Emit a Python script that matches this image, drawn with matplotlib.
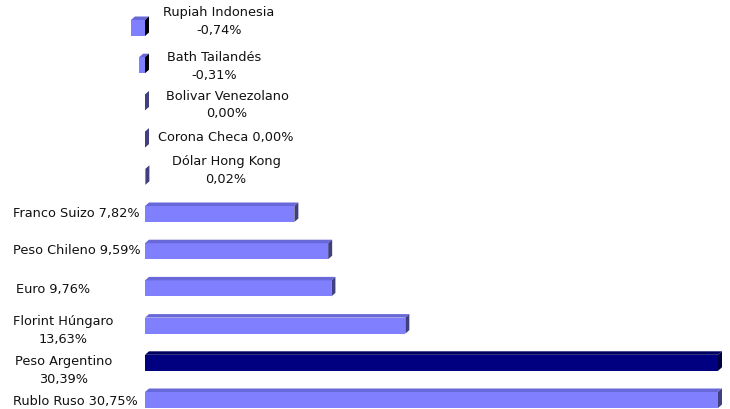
import matplotlib.pyplot as plt
from matplotlib.patches import Polygon

monedas = ['Rupiah Indonesia', 'Bath Tailandés', 'Bolivar Venezolano', 'Corona Checa',
           'Dólar Hong Kong', 'Franco Suizo', 'Peso Chileno', 'Euro',
           'Florint Húngaro', 'Peso Argentino', 'Rublo Ruso']
valores = [-0.74, -0.31, 0.00, 0.00, 0.02, 7.82, 9.59, 9.76, 13.63, 30.39, 30.75]
saltos = ['\n', '\n', '\n', ' ', '\n', ' ', ' ', ' ', '\n', '\n', ' ']
destacado = 'Peso Argentino'
x_max = 30  # axis maximum, longer bars are cut there

# pixel geometry of the original picture
px_pct = 19.1      # px per 1%
x0_px = 145        # x of zero line
row_px = 37.2      # px between rows
y0_px = 29         # centre of first bar
W, H = 730, 410

def dx(px):
    return (px - x0_px) / px_pct

def dy(py):
    return (py - y0_px) / row_px

fig = plt.figure(figsize=(7.3, 4.1), dpi=100)
ax = fig.add_axes([0, 0, 1, 1])
ax.set_xlim(dx(0), dx(W))
ax.set_ylim(dy(H), dy(0))
ax.axis('off')

alto = 16 / row_px
ddx = 4 / px_pct
ddy = 3.5 / row_px

for i, (m, v) in enumerate(zip(monedas, valores)):
    if m == destacado:
        front, top, side = '#000080', '#000060', '#000040'
    else:
        front, top, side = '#8080ff', '#6868d8', '#404080'
    if v < 0:
        side = '#000000'
    v = min(v, x_max)
    y1 = i - alto / 2
    y2 = i + alto / 2
    if abs(v) > 0.05:
        ax.barh(i, v, height=alto, color=front, linewidth=0)
        a, b = min(0, v), max(0, v)
        ax.add_patch(Polygon([(a, y1), (a + ddx, y1 - ddy), (b + ddx, y1 - ddy), (b, y1)],
                             closed=True, facecolor=top, linewidth=0))
    else:
        b = v
    ax.add_patch(Polygon([(b, y1), (b + ddx, y1 - ddy), (b + ddx, y2 - ddy), (b, y2)],
                         closed=True, facecolor=side, linewidth=0))

# label positions in px (x, y, alignment)
pos_etiquetas = [(219, 21.5, 'center'), (214, 66.5, 'center'), (227, 105, 'center'),
                 (226, 137.5, 'center'), (226, 170.5, 'center'),
                 (13, 214, 'left'), (13, 251, 'left'), (16, 289, 'left'),
                 (13, 330.5, 'left'), (15, 370.5, 'left'), (13, 401, 'left')]

for m, v, s, (px, py, ha) in zip(monedas, valores, saltos, pos_etiquetas):
    txt = m + s + f'{v:.2f}'.replace('.', ',') + '%'
    ax.text(dx(px), dy(py), txt, ha=ha, va='center', multialignment='center',
            fontsize=9.3, color='#111111', linespacing=1.45, family='DejaVu Sans')

fig.savefig('out.png', dpi=100, facecolor='white')
